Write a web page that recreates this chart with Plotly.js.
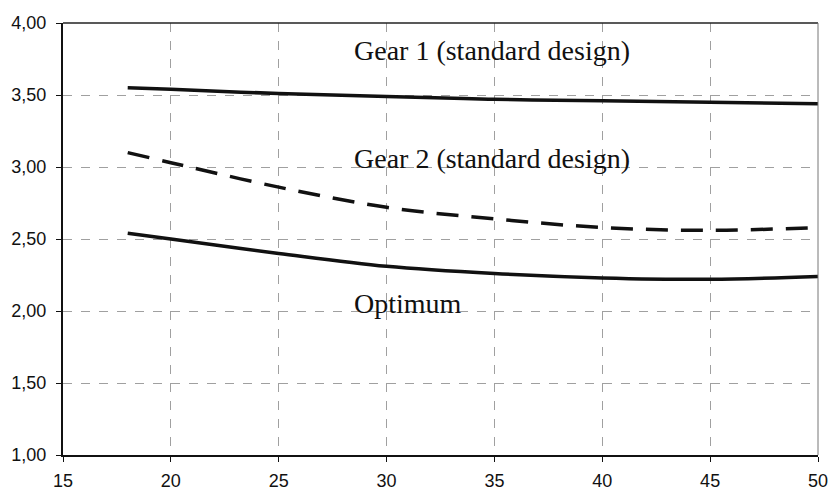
<!DOCTYPE html>
<html>
<head>
<meta charset="utf-8">
<script src="https://cdn.plot.ly/plotly-3.0.1.min.js"></script>
<style>html,body{margin:0;padding:0;background:#fff;}#chart{width:833px;height:490px;}</style>
</head>
<body>
<div id="chart"></div>
<script>
const xValues = [18, 20, 25, 30, 35, 40, 45, 50];
const gear1 = [3.55, 3.54, 3.51, 3.49, 3.47, 3.46, 3.45, 3.44];
const gear2 = [3.10, 3.03, 2.86, 2.72, 2.64, 2.58, 2.56, 2.58];
const optimum = [2.54, 2.50, 2.40, 2.31, 2.26, 2.23, 2.22, 2.24];
const labels = ["Gear 1 (standard design)", "Gear 2 (standard design)", "Optimum"];
const labelY = [3.81, 3.06, 2.055];
const labelX = 28.4;

const traces = [
  {x: xValues, y: gear1, mode: 'lines', line: {color: '#111', width: 3.5, shape: 'spline'}},
  {x: xValues, y: gear2, mode: 'lines', line: {color: '#111', width: 3.5, shape: 'spline', dash: '22px,13px'}},
  {x: xValues, y: optimum, mode: 'lines', line: {color: '#111', width: 3.5, shape: 'spline'}}
];

const tickFont = {family: 'Liberation Sans, Arial, sans-serif', size: 18, color: '#111'};
const layout = {
  width: 833, height: 490,
  margin: {l: 63, r: 15, t: 23, b: 35},
  showlegend: false,
  paper_bgcolor: '#fff', plot_bgcolor: '#fff',
  separators: ',.',
  xaxis: {
    range: [15, 50], dtick: 5, tick0: 15, tickmode: 'linear',
    showline: true, linecolor: '#111', linewidth: 2,
    ticks: 'outside', ticklen: 5, tickcolor: '#111',
    showgrid: true, gridcolor: '#a0a0a0', griddash: 'dash', gridwidth: 1,
    zeroline: false, tickfont: tickFont, ticklabelstandoff: 3
  },
  yaxis: {
    range: [1, 4], dtick: 0.5, tick0: 1, tickmode: 'linear', tickformat: '.2f',
    showline: true, linecolor: '#111', linewidth: 2,
    ticks: 'outside', ticklen: 5, tickcolor: '#111',
    showgrid: true, gridcolor: '#a0a0a0', griddash: 'dash', gridwidth: 1,
    zeroline: false, tickfont: tickFont, ticklabelstandoff: 6
  },
  shapes: [
    {type: 'line', xref: 'paper', yref: 'paper', x0: 0, x1: 1, y0: 1, y1: 1, line: {color: '#222', width: 1.5}},
    {type: 'line', xref: 'paper', yref: 'paper', x0: 1, x1: 1, y0: 0, y1: 1, line: {color: '#777', width: 1}}
  ],
  annotations: labels.map((t, i) => ({
    x: labelX, y: labelY[i], xref: 'x', yref: 'y', text: t, showarrow: false,
    xanchor: 'left', yanchor: 'middle',
    font: {family: 'Liberation Serif, Times New Roman, serif', size: 28, color: '#111'}
  }))
};

Plotly.newPlot('chart', traces, layout, {staticPlot: true, displayModeBar: false});
</script>
</body>
</html>
